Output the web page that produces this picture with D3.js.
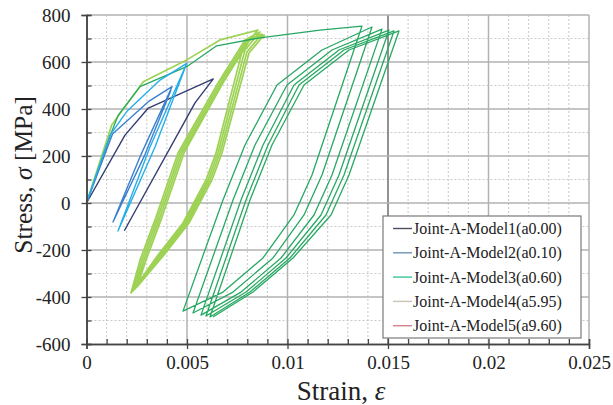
<!DOCTYPE html>
<html>
<head>
<meta charset="utf-8">
<script src="https://cdn.jsdelivr.net/npm/d3@7"></script>
<style>
  html, body { margin: 0; padding: 0; background: #fff; }
  svg { display: block; }
  svg text { font-family: 'Liberation Serif', Tinos, 'DejaVu Serif', serif; }
</style>
</head>
<body>
<svg id="chart" width="613" height="405"></svg>
<script>
// Stress-strain hysteresis, Joint-A models
// values: [strain, stress MPa]

const xTickValues = [0, 0.005, 0.01, 0.015, 0.02, 0.025];
const xTickLabels = ['0', '0.005', '0.01', '0.015', '0.02', '0.025'];
const yTickValues = [-600, -400, -200, 0, 200, 400, 600, 800];
const yTickLabels = ['-600', '-400', '-200', '0', '200', '400', '600', '800'];

const legendLabels = [
  'Joint-A-Model1(a0.00)',
  'Joint-A-Model2(a0.10)',
  'Joint-A-Model3(a0.60)',
  'Joint-A-Model4(a5.95)',
  'Joint-A-Model5(a9.60)',
];
const legendColors = ['#4b4e5e', '#6f93b5', '#3cc49a', '#cbc3b6', '#d4828f'];

const model1 = [
  [0, 0], [0.001915, 289], [0.003075, 404], [0.006308, 528], [0.005398, 426], [0.001881, -118],
];

const model2 = [
  [0, 0], [0.001294, 294], [0.003075, 431], [0.004254, 495],
  [0.002711, 206], [0.001318, -81], [0.002910, 206], [0.004204, 481],
];

const model2b = [
  [0, 0], [0.001169, 289], [0.002000, 389], [0.003657, 523], [0.004985, 594],
  [0.003159, 238], [0.001567, -119], [0.003408, 238], [0.004900, 574],
];

const model3 = [
  [0, 0], [0.001254, 303], [0.001582, 374], [0.002662, 495], [0.004985, 580],
  [0.006478, 669], [0.008632, 703], [0.011617, 736],
  [0.013706, 753], [0.011219, 119], [0.010323, -51], [0.008781, -234], [0.006791, -379], [0.004801, -460],
  [0.006791, 13], [0.007886, 247], [0.009478, 502], [0.011716, 651],
  [0.014204, 749], [0.011716, 119], [0.010821, -51], [0.009279, -234], [0.007289, -379], [0.005299, -468],
  [0.007289, 13], [0.008383, 247], [0.009975, 502], [0.012214, 651],
  [0.014701, 740], [0.012214, 119], [0.011318, -51], [0.009677, -234], [0.007687, -379], [0.005697, -477],
  [0.007687, 13], [0.008781, 247], [0.010323, 502], [0.012562, 651],
  [0.015050, 736], [0.012562, 119], [0.011667, -51], [0.009925, -234], [0.007935, -379], [0.005945, -481],
  [0.007935, 13], [0.009030, 247], [0.010572, 502], [0.012811, 651],
  [0.015299, 732], [0.012811, 119], [0.011915, -51], [0.010124, -234], [0.008134, -379], [0.006144, -485],
  [0.008134, 13], [0.009229, 247], [0.010821, 502], [0.013060, 651],
  [0.015547, 732], [0.013060, 119], [0.012164, -51], [0.010274, -234], [0.008284, -379], [0.006294, -485],
];

const model4 = [
  [0, 0], [0.001254, 332], [0.002826, 516], [0.004985, 609], [0.006642, 694],
  [0.008532, 736], [0.007786, 660], [0.006443, 213], [0.005945, 98], [0.004801, -85], [0.003557, -221],
  [0.002214, -383], [0.002662, -243], [0.003408, -72], [0.004552, 213], [0.006542, 511], [0.007886, 694],
  [0.008632, 728], [0.007886, 651], [0.006542, 213], [0.006045, 98], [0.004900, -85], [0.003657, -221],
  [0.002313, -374], [0.002761, -243], [0.003507, -72], [0.004652, 213], [0.006642, 511], [0.007985, 694],
  [0.008731, 719], [0.007985, 643], [0.006642, 213], [0.006144, 98], [0.005000, -85], [0.003756, -221],
  [0.002413, -366], [0.002861, -243], [0.003607, -72], [0.004751, 213], [0.006741, 511], [0.008085, 694],
  [0.008831, 715], [0.008085, 638], [0.006741, 213], [0.006244, 98], [0.005100, -85], [0.003856, -221],
  [0.002512, -357], [0.002960, -243], [0.003706, -72], [0.004851, 213], [0.006791, 511], [0.008134, 694],
  [0.008881, 711],
];

// draw order: pale ones first
const curves = [
  { data: model4, color: '#9dd254', width: 1.7 },
  { data: model3, color: '#27a862', width: 1.3 },
  { data: model1, color: '#333d72', width: 1.4 },
  { data: model2, color: '#3b7fcf', width: 1.4 },
  { data: model2b, color: '#25aee9', width: 1.4 },
];

const margin = { top: 15, right: 24, bottom: 61, left: 86.5 };
const W = 613 - margin.left - margin.right;
const H = 405 - margin.top - margin.bottom;

const serif = "'Liberation Serif', Tinos, 'DejaVu Serif', serif";

const svg = d3.select('#chart');
const g = svg.append('g').attr('transform', `translate(${margin.left},${margin.top})`);

const x = d3.scaleLinear().domain([0, 0.025]).range([0, W]);
const y = d3.scaleLinear().domain([-600, 800]).range([H, 0]);

// minor grid (dotted)
const xMinor = x.ticks(25).filter(v => !xTickValues.some(t => Math.abs(t - v) < 1e-9));
const yMinor = y.ticks(14).filter(v => !yTickValues.includes(v));

g.append('g').selectAll('line').data(xMinor).join('line')
  .attr('x1', d => x(d)).attr('x2', d => x(d)).attr('y1', 0).attr('y2', H)
  .attr('stroke', '#c8c8c8').attr('stroke-width', 1).attr('stroke-dasharray', '2,2');
g.append('g').selectAll('line').data(yMinor).join('line')
  .attr('y1', d => y(d)).attr('y2', d => y(d)).attr('x1', 0).attr('x2', W)
  .attr('stroke', '#c8c8c8').attr('stroke-width', 1).attr('stroke-dasharray', '2,2');

// major grid
g.append('g').selectAll('line').data(xTickValues.slice(1)).join('line')
  .attr('x1', d => x(d)).attr('x2', d => x(d)).attr('y1', 0).attr('y2', H)
  .attr('stroke', d => d === 0.015 ? '#6e6e6e' : '#b2b2b2').attr('stroke-width', 1.5);
g.append('g').selectAll('line').data(yTickValues.slice(1)).join('line')
  .attr('y1', d => y(d)).attr('y2', d => y(d)).attr('x1', 0).attr('x2', W)
  .attr('stroke', '#b2b2b2').attr('stroke-width', 1.5);

// curves
const line = d3.line().x(d => x(d[0])).y(d => y(d[1]));
g.append('g').selectAll('path').data(curves).join('path')
  .attr('d', d => line(d.data))
  .attr('fill', 'none')
  .attr('stroke', d => d.color)
  .attr('stroke-width', d => d.width)
  .attr('stroke-linejoin', 'round');

// axes: major ticks cross the axis line, minor ticks point inward
const axisColor = '#444';
const styleAxis = sel => {
  sel.attr('font-family', null).attr('font-size', null);
  sel.select('.domain').attr('stroke', axisColor).attr('stroke-width', 1.5);
  sel.selectAll('.tick line').attr('stroke', axisColor).attr('stroke-width', 1.3);
  sel.selectAll('.tick text').attr('fill', '#222')
    .attr('font-family', serif).attr('font-size', 19);
};

g.append('g').attr('transform', `translate(0,${H})`)
  .call(d3.axisBottom(x).tickValues(xTickValues).tickSize(5).tickPadding(7)
    .tickFormat((d, i) => xTickLabels[i]))
  .call(styleAxis);
g.append('g').attr('transform', `translate(0,${H})`)
  .call(d3.axisTop(x).ticks(25).tickSize(5).tickFormat(''))
  .call(styleAxis);

g.append('g')
  .call(d3.axisLeft(y).tickValues(yTickValues).tickSize(5).tickPadding(11)
    .tickFormat((d, i) => yTickLabels[i]))
  .call(styleAxis);
g.append('g')
  .call(d3.axisRight(y).ticks(14).tickSize(5).tickFormat(''))
  .call(styleAxis);

// axis titles
const xTitle = svg.append('text')
  .attr('x', 341).attr('y', 400)
  .attr('text-anchor', 'middle').attr('fill', '#222')
  .attr('font-family', serif).attr('font-size', 27);
xTitle.append('tspan').text('Strain, ');
xTitle.append('tspan').attr('font-style', 'italic').text('ε');

const yTitle = svg.append('text')
  .attr('transform', `translate(32,${margin.top + y(120)}) rotate(-90)`)
  .attr('text-anchor', 'middle').attr('fill', '#222')
  .attr('font-family', serif).attr('font-size', 25.5);
yTitle.append('tspan').text('Stress, ');
yTitle.append('tspan').attr('font-style', 'italic').text('σ');
yTitle.append('tspan').text(' [MPa]');

// legend
const legend = svg.append('g').attr('transform', 'translate(383,216)');
legend.append('rect')
  .attr('width', 198).attr('height', 122)
  .attr('fill', '#fff').attr('stroke', '#7a7a7a').attr('stroke-width', 1.2);
const rows = legend.selectAll('g.row').data(legendLabels).join('g')
  .attr('class', 'row')
  .attr('transform', (d, i) => `translate(0,${12.5 + i * 24.3})`);
rows.append('line')
  .attr('x1', 10).attr('x2', 29).attr('y1', 0).attr('y2', 0)
  .attr('stroke', (d, i) => legendColors[i]).attr('stroke-width', 1.4);
rows.append('text')
  .attr('x', 30).attr('y', 0).attr('dy', '0.35em')
  .attr('fill', '#222').attr('font-family', serif).attr('font-size', 16)
  .text(d => d);
</script>
</body>
</html>
